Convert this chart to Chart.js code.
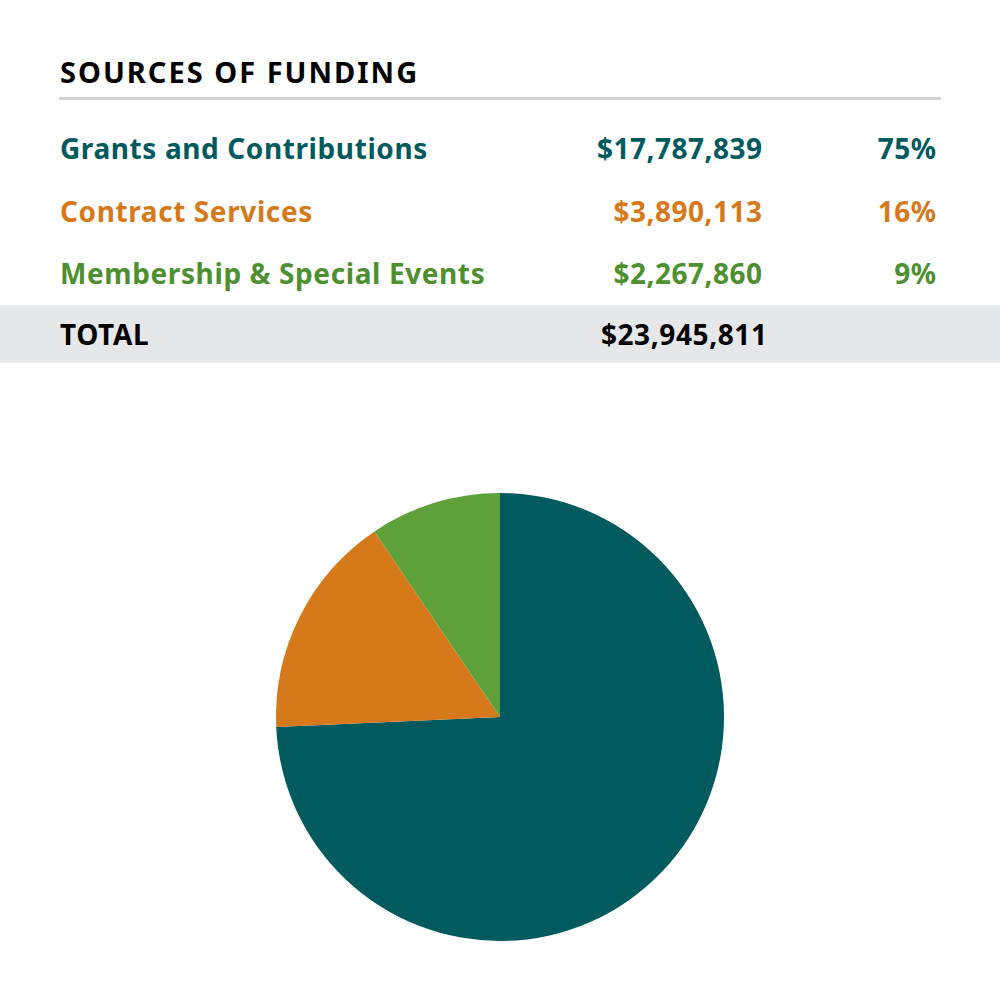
<!DOCTYPE html>
<html>
<head>
<meta charset="utf-8">
<script src="https://cdn.jsdelivr.net/npm/chart.js@4.4.1/dist/chart.umd.min.js"></script>
<style>
  html, body { margin:0; padding:0; background:#ffffff; }
  body { width:1000px; height:1000px; position:relative; overflow:hidden; font-family:"Noto Sans", "Open Sans", sans-serif; font-weight:700; }
  .t { position:absolute; white-space:nowrap; line-height:40px; height:40px; letter-spacing:0.5px; }
  #title { left:60px; top:52px; font-size:29px; color:#000; letter-spacing:2px; }
  #rule { position:absolute; left:59px; top:97px; width:882px; height:3px; background:#D1D3D4; }
  #band { position:absolute; left:0; top:305px; width:1000px; height:58px; background:#E6E7E8; }
  #wrap { position:absolute; left:0; top:0; width:1000px; height:1000px; }
</style>
</head>
<body>
<div id="band"></div>
<div id="rule"></div>
<div class="t" id="title">SOURCES OF FUNDING</div>
<div id="rows"></div>
<div id="wrap"><canvas id="c" width="1000" height="1000"></canvas></div>
<script>
const categories = ["Grants and Contributions", "Contract Services", "Membership & Special Events"];
const amounts = [17787839, 3890113, 2267860];
const percentLabels = ["75%", "16%", "9%"];
const totalLabel = "TOTAL";
const totalAmount = 23945811;
const textColors = ["#005A5E", "#D6791B", "#4E8F30"];
const sliceColors = ["#005A5E", "#D6791B", "#5EA13B"];

const fmt = v => "$" + v.toLocaleString("en-US");
const rows = document.getElementById("rows");
const rowCenters = [148, 211, 273];
function addText(txt, left, right, center, color, size, ls) {
  const d = document.createElement("div");
  d.className = "t";
  d.textContent = txt;
  d.style.top = (center - 20) + "px";
  d.style.color = color;
  d.style.fontSize = size + "px";
  d.style.letterSpacing = ls + "px";
  if (left !== null) d.style.left = left + "px";
  if (right !== null) { d.style.right = (1000 - right - ls) + "px"; d.style.textAlign = "right"; }
  rows.appendChild(d);
}
categories.forEach((c, i) => {
  addText(c, 60, null, rowCenters[i], textColors[i], 28, 0.6);
  addText(fmt(amounts[i]), null, 762, rowCenters[i], textColors[i], 28, 0.5);
  addText(percentLabels[i], null, 936, rowCenters[i], textColors[i], 28, 0.5);
});
addText(totalLabel, 60, null, 334, "#000000", 28, 0.6);
addText(fmt(totalAmount), null, 767, 334, "#000000", 28, 0.6);

new Chart(document.getElementById("c"), {
  type: "pie",
  data: {
    labels: categories,
    datasets: [{ data: amounts, backgroundColor: sliceColors, borderWidth: 0 }]
  },
  options: {
    responsive: false,
    animation: false,
    layout: { padding: { left: 276, right: 276, top: 493, bottom: 59 } },
    plugins: { legend: { display: false }, tooltip: { enabled: false } }
  }
});
</script>
</body>
</html>
